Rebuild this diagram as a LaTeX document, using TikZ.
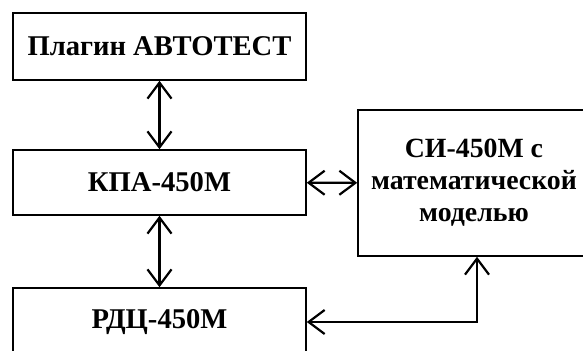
\documentclass[tikz,border=0pt]{standalone}
\usepackage{fontspec}
\setmainfont{Liberation Serif}
\usetikzlibrary{arrows.meta, positioning}

\tikzset{
  blk/.style={draw, line width=0.8pt, minimum width=146.5pt, inner sep=0pt,
              font=\fontsize{14.3}{16}\selectfont\bfseries, align=center},
  barb/.tip={Straight Barb[length=8pt,width=12pt,line width=1.1pt]},
  link/.style={line width=1.1pt, barb-barb}
}

\begin{document}
\begin{tikzpicture}[x=0.5pt, y=-0.5pt]
  \useasboundingbox (0,0) rectangle (583,351);
  \clip (0,0) rectangle (583,351);
  % blocks
  \node[blk, minimum height=33.5pt] (plugin) at (159.5,46.5) {Плагин АВТОТЕСТ};
  \node[blk, minimum height=32.5pt] (kpa) at (159.5,182.5) {КПА-450М};
  \node[blk, minimum height=34pt] (rdc) at (159.5,322) {РДЦ-450М};
  \node[blk, minimum width=116pt, minimum height=73pt,
        font=\fontsize{13.9}{16}\selectfont\bfseries] (si) at (474,183)
        {СИ-450М с\\математической\\моделью};
  % links
  \draw[link] (plugin) -- (kpa);
  \draw[link] (kpa) -- (rdc);
  \draw[link] (kpa) -- (si);
  \draw[link] ([xshift=1.5pt]si.south) |- (rdc.east);
\end{tikzpicture}
\end{document}
